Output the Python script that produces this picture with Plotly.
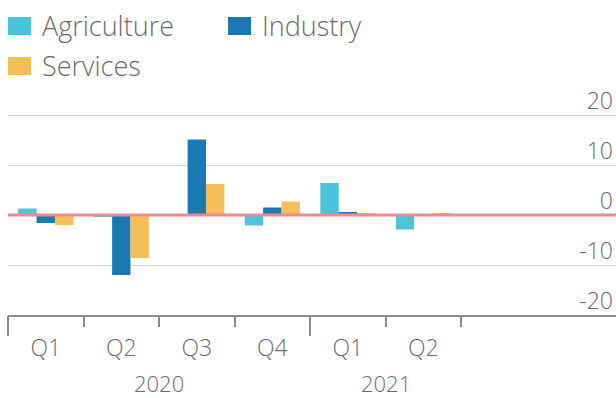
import plotly.graph_objects as go

# Quarterly growth contributions by sector
quarters = ["Q1", "Q2", "Q3", "Q4", "Q1", "Q2"]
years = ["2020", "2021"]
quarters_per_year = [4, 2]

agriculture = [1.3, -0.3, 0.1, -2.1, 6.4, -2.9]
industry = [-1.6, -12.0, 15.1, 1.5, 0.6, -0.2]
services = [-2.0, -8.6, 6.2, 2.7, 0.3, 0.4]

y_tick_values = [-20, -10, 0, 10, 20]
y_tick_text = ["-20", "-10", "0", "10", "20"]

series_names = ["Agriculture", "Industry", "Services"]
series_values = [agriculture, industry, services]
series_colors = ["#4cc3dd", "#1a78b2", "#f5bf58"]

W, H = 616, 398
Y_RANGE = [-20, 27]
PX_PER_UNIT = 5.0
M_B = 83
M_L, M_R = 8, 0
M_T = round(H - M_B - (Y_RANGE[1] - Y_RANGE[0]) * PX_PER_UNIT)
TEXT = "#6c6c6c"
FONT = "Open Sans"
AXIS = "#8c8c8c"
AX_SIZE = 23

x_pos = list(range(len(quarters)))

# year boundaries and quarter boundaries for tick marks
year_edges = []
start = 0
year_centers = []
for n in quarters_per_year:
    year_edges.append(start - 0.5)
    year_centers.append(start + (n - 1) / 2)
    start += n
quarter_edges = [i + 0.5 for i in range(len(quarters)) if (i + 0.5) not in year_edges]

fig = go.Figure()
for name, vals, col in zip(series_names, series_values, series_colors):
    fig.add_trace(go.Bar(x=x_pos, y=vals, name=name, marker=dict(color=col, line=dict(width=0)),
                         showlegend=False))

# helper trace so the overlay axis carrying the year ticks is rendered
fig.add_trace(go.Scatter(x=[None], y=[None], xaxis="x2", showlegend=False, hoverinfo="skip"))

x_range = [-0.5, 7.55]
axis_font = dict(family=FONT, size=AX_SIZE, color=TEXT, weight=300)

fig.update_layout(
    width=W, height=H,
    margin=dict(l=M_L, r=M_R, t=M_T, b=M_B, pad=0),
    paper_bgcolor="white", plot_bgcolor="white",
    barmode="group", bargap=0.27, bargroupgap=0,
    font=dict(family=FONT, color=TEXT, size=AX_SIZE, weight=300),
    xaxis=dict(
        range=x_range, tickmode="array", tickvals=x_pos, ticktext=quarters,
        ticks="", showgrid=False, zeroline=False,
        showline=True, linecolor=AXIS, linewidth=2,
        tickfont=axis_font,
        ticklabelstandoff=11,
        minor=dict(tickmode="array", tickvals=quarter_edges, ticks="outside",
                   ticklen=10, tickwidth=2, tickcolor=AXIS, showgrid=False),
    ),
    xaxis2=dict(
        range=x_range, overlaying="x", anchor="y", side="bottom",
        tickmode="array", tickvals=year_edges, ticks="outside",
        ticklen=20, tickwidth=2, tickcolor=AXIS,
        showticklabels=False, showgrid=False, zeroline=False, showline=False,
    ),
    yaxis=dict(
        range=Y_RANGE, side="right", tickmode="array",
        tickvals=y_tick_values, ticktext=y_tick_text,
        ticklabelposition="inside", ticklabelshift=-14, ticklabeloverflow="allow",
        ticks="",
        showgrid=True, gridcolor="#d6d6d6", gridwidth=1,
        zeroline=False, showline=False,
        tickfont=axis_font,
    ),
)

# zero reference line
fig.add_shape(type="line", xref="paper", x0=0, x1=1, yref="y", y0=0, y1=0,
              line=dict(color="#f08a8a", width=3), layer="above")

plot_w = W - M_L - M_R
plot_h = H - M_T - M_B


def px_x(p):
    return (p - M_L) / plot_w


def px_y(p):
    return (H - M_B - p) / plot_h


# year labels under the quarter labels
for yr, xc in zip(years, year_centers):
    fig.add_annotation(x=xc, xref="x", y=px_y(383), yref="paper",
                       text=yr, showarrow=False, xanchor="center", yanchor="middle",
                       font=dict(family=FONT, size=22, color=TEXT, weight=300))

# legend: coloured boxes with labels
legend_slots = [(8, 17, 40), (228, 17, 260), (8, 57, 40)]  # box left, box top, text left
for (bx, by, tx), name, col in zip(legend_slots, series_names, series_colors):
    fig.add_shape(type="rect", xref="paper", yref="paper",
                  x0=px_x(bx), x1=px_x(bx + 23), y0=px_y(by + 18), y1=px_y(by),
                  fillcolor=col, line=dict(width=0))
    fig.add_annotation(x=px_x(tx), y=px_y(by + 9), xref="paper", yref="paper",
                       text=name, showarrow=False, xanchor="left", yanchor="middle",
                       font=dict(family=FONT, size=27, color=TEXT, weight=300))

fig.write_html("out.html")
